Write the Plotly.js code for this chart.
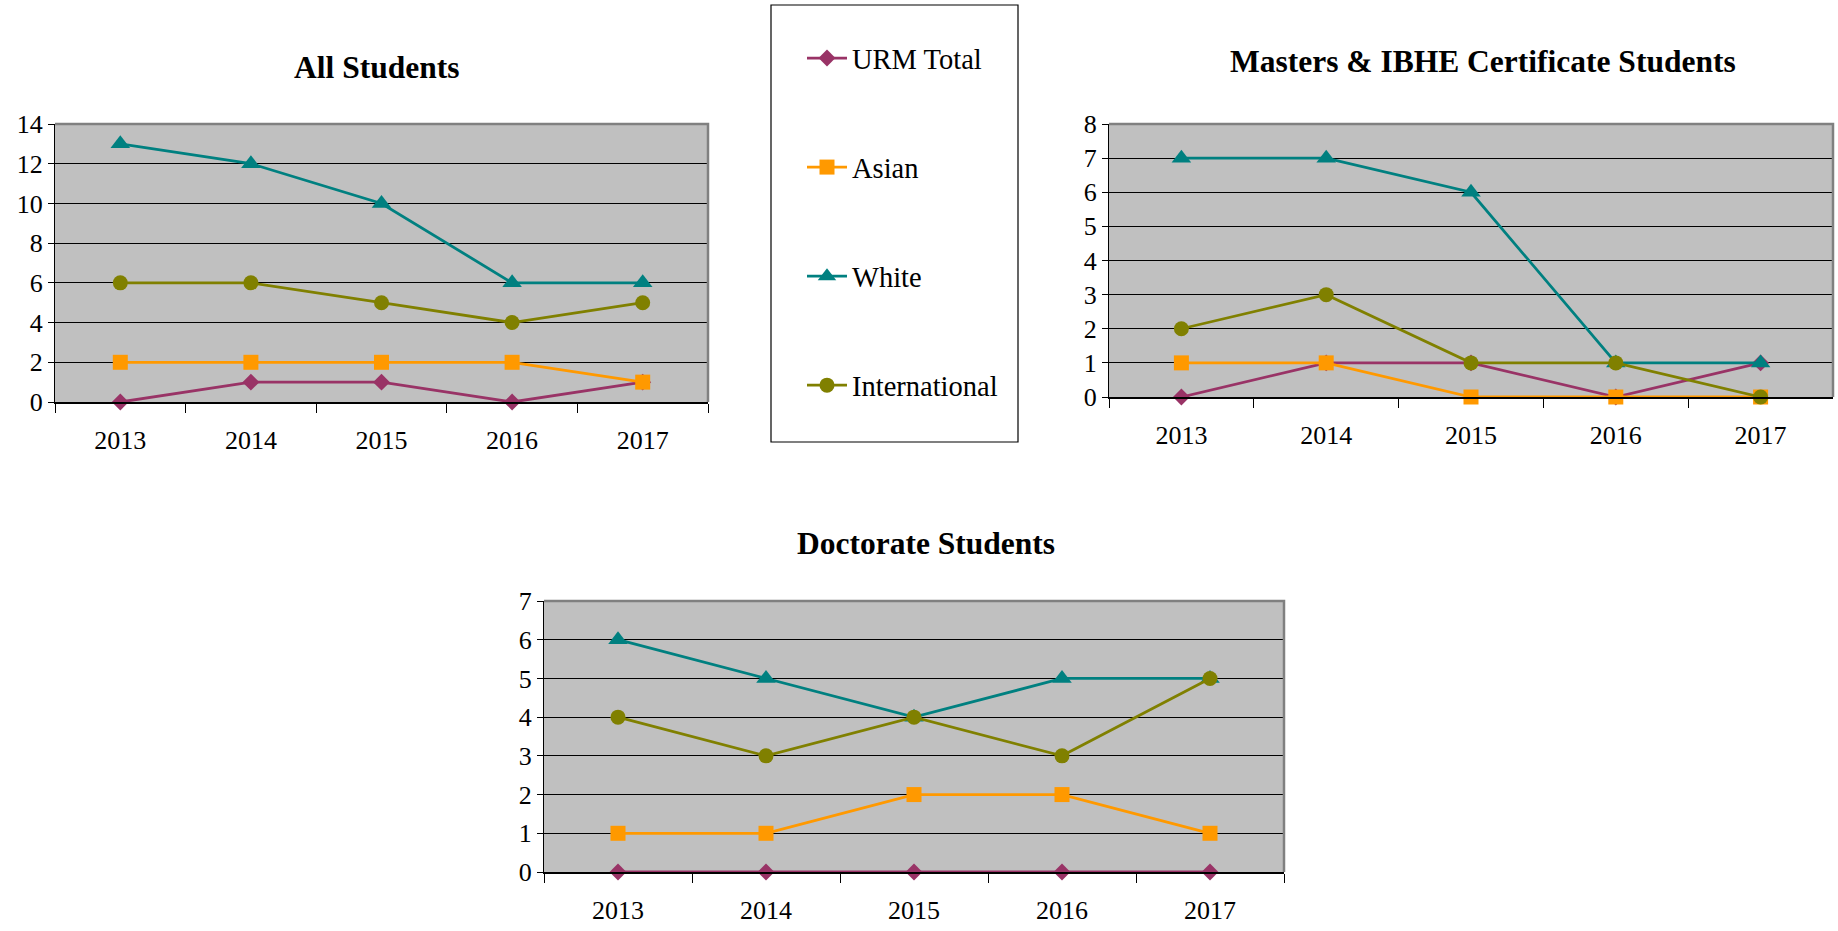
<!DOCTYPE html>
<html>
<head>
<meta charset="utf-8">
<script src="https://cdn.plot.ly/plotly-3.0.1.min.js"></script>
<style>html,body{margin:0;padding:0;background:#fff;}#chart{width:1838px;height:931px;}</style>
</head>
<body>
<div id="chart"></div>
<script>
// ---- data ----
const years = ['2013', '2014', '2015', '2016', '2017'];
const seriesNames = ['URM Total', 'Asian', 'White', 'International'];

const allURM = [0, 1, 1, 0, 1];
const allAsian = [2, 2, 2, 2, 1];
const allWhite = [13, 12, 10, 6, 6];
const allIntl = [6, 6, 5, 4, 5];

const mastersURM = [0, 1, 1, 0, 1];
const mastersAsian = [1, 1, 0, 0, 0];
const mastersWhite = [7, 7, 6, 1, 1];
const mastersIntl = [2, 3, 1, 1, 0];

const doctorateURM = [0, 0, 0, 0, 0];
const doctorateAsian = [1, 1, 2, 2, 1];
const doctorateWhite = [6, 5, 4, 5, 5];
const doctorateIntl = [4, 3, 4, 3, 5];

const chartTitles = ['All Students', 'Masters &amp; IBHE Certificate Students', 'Doctorate Students'];

// ---- styles ----
const colors = ['#993366', '#FF9900', '#008080', '#808000'];
const symbols = ['diamond', 'square', 'triangle-up', 'circle'];
const sizes = [13, 15, 17, 15];
const FONT = '"Liberation Serif", "Times New Roman", serif';

const panels = [
  {data: [allURM, allAsian, allWhite, allIntl], xa: 'x', ya: 'y'},
  {data: [mastersURM, mastersAsian, mastersWhite, mastersIntl], xa: 'x2', ya: 'y2'},
  {data: [doctorateURM, doctorateAsian, doctorateWhite, doctorateIntl], xa: 'x3', ya: 'y3'}
];

const traces = [];
panels.forEach((p, pi) => {
  p.data.forEach((vals, si) => {
    traces.push({
      type: 'scatter', mode: 'lines+markers',
      x: years, y: vals, xaxis: p.xa, yaxis: p.ya,
      name: seriesNames[si], legendgroup: seriesNames[si],
      showlegend: pi === 0,
      cliponaxis: false,
      line: {color: colors[si], width: 2.8},
      marker: {symbol: symbols[si], size: sizes[si], color: colors[si], line: {width: 0}}
    });
  });
});

function xAxis(domain, anchor) {
  return {
    domain: domain, anchor: anchor, type: 'category', range: [-0.5, 4.5],
    showgrid: false, zeroline: false, showline: true, linecolor: '#000', linewidth: 2,
    ticks: 'outside', tickson: 'boundaries', ticklen: 9, tickcolor: '#000', tickwidth: 1,
    ticklabelstandoff: 14,
    tickfont: {family: FONT, size: 26, color: '#000'}, fixedrange: true
  };
}
function yAxis(domain, anchor, maxv, dt) {
  return {
    domain: domain, anchor: anchor, range: [0, maxv], dtick: dt, tick0: 0,
    showgrid: true, gridcolor: '#000', gridwidth: 1, zeroline: false,
    showline: true, linecolor: '#000', linewidth: 1,
    ticks: 'outside', ticklen: 6, tickcolor: '#000', tickwidth: 1,
    tickfont: {family: FONT, size: 26, color: '#000'}, fixedrange: true
  };
}

const W = 1838, H = 931;
const px = v => v / W, py = v => 1 - v / H;

const layout = {
  width: W, height: H, margin: {l: 0, r: 0, t: 0, b: 0},
  paper_bgcolor: '#fff', plot_bgcolor: '#C0C0C0',
  font: {family: FONT, color: '#000'},
  xaxis: xAxis([px(55), px(708)], 'y'),
  yaxis: yAxis([py(402), py(124)], 'x', 14, 2),
  xaxis2: xAxis([px(1109), px(1833)], 'y2'),
  yaxis2: yAxis([py(397), py(124)], 'x2', 8, 1),
  xaxis3: xAxis([px(544), px(1284)], 'y3'),
  yaxis3: yAxis([py(872), py(601)], 'x3', 7, 1),
  showlegend: true,
  legend: {
    x: px(802), y: py(33), xanchor: 'left', yanchor: 'top',
    bgcolor: 'rgba(0,0,0,0)', borderwidth: 0,
    traceorder: 'grouped', tracegroupgap: 69, itemwidth: 40,
    font: {family: FONT, size: 28.5, color: '#000'},
    itemclick: false, itemdoubleclick: false
  },
  annotations: [
    {text: '<b>' + chartTitles[0] + '</b>', xref: 'paper', yref: 'paper', x: px(376), y: py(67), xanchor: 'center', yanchor: 'middle', showarrow: false, font: {family: FONT, size: 31.5, color: '#000'}},
    {text: '<b>' + chartTitles[1] + '</b>', xref: 'paper', yref: 'paper', x: px(1483), y: py(62), xanchor: 'center', yanchor: 'middle', showarrow: false, font: {family: FONT, size: 31.5, color: '#000'}},
    {text: '<b>' + chartTitles[2] + '</b>', xref: 'paper', yref: 'paper', x: px(926), y: py(543), xanchor: 'center', yanchor: 'middle', showarrow: false, font: {family: FONT, size: 31.5, color: '#000'}}
  ],
  shapes: [
    // legend box
    {type: 'rect', xref: 'paper', yref: 'paper', x0: px(771), x1: px(1018), y0: py(442), y1: py(5), line: {color: '#000', width: 1.2}, fillcolor: 'rgba(0,0,0,0)', layer: 'above'},
    // grey plot-area borders (top/right)
    {type: 'path', xref: 'x domain', yref: 'y domain', path: 'M 0 1 L 1 1 L 1 0', line: {color: '#808080', width: 2.5}},
    {type: 'path', xref: 'x2 domain', yref: 'y2 domain', path: 'M 0 1 L 1 1 L 1 0', line: {color: '#808080', width: 2.5}},
    {type: 'path', xref: 'x3 domain', yref: 'y3 domain', path: 'M 0 1 L 1 1 L 1 0', line: {color: '#808080', width: 2.5}}
  ]
};

Plotly.newPlot('chart', traces, layout, {displayModeBar: false, staticPlot: true});
</script>
</body>
</html>
